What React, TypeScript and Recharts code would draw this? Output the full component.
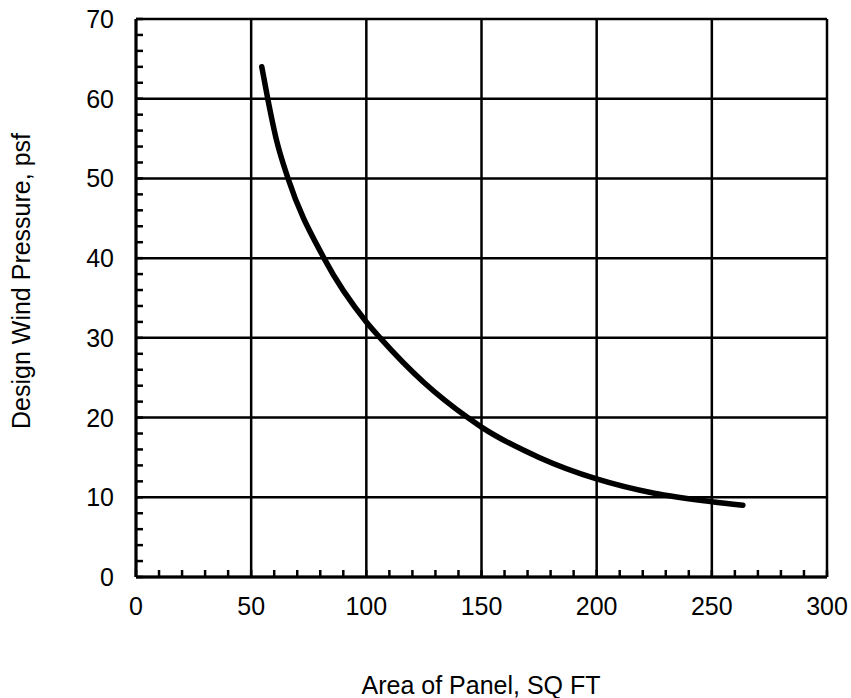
import { ComposedChart, Line, XAxis, YAxis, CartesianGrid, Label } from "recharts"

// curve
const areaSqFt = [54.6, 57.2, 61, 66, 81.6, 100, 106, 125, 144, 150, 175, 200, 225, 250, 263.5]
const pressurePsf = [64, 60, 54.8, 50, 40, 32, 30, 24.4, 20, 18.8, 15.0, 12.3, 10.5, 9.45, 9.0]

const xMajorTicks = [0, 50, 100, 150, 200, 250, 300]
const xMinorTicks = [0, 10, 20, 30, 40, 50, 60, 70, 80, 90, 100, 110, 120, 130, 140, 150, 160, 170, 180, 190, 200, 210, 220, 230, 240, 250, 260, 270, 280, 290, 300]
const yMajorTicks = [0, 10, 20, 30, 40, 50, 60, 70]
const yMinorTicks = [0, 2, 4, 6, 8, 10, 12, 14, 16, 18, 20, 22, 24, 26, 28, 30, 32, 34, 36, 38, 40, 42, 44, 46, 48, 50, 52, 54, 56, 58, 60, 62, 64, 66, 68, 70]

const chartData = areaSqFt.map((area, i) => ({ area, pressure: pressurePsf[i] }))

const FONT = "'Liberation Sans', Arial, sans-serif"

function XTick({ x, y, payload }: { x: number; y: number; payload: { value: number } }) {
  const v = payload.value
  return (
    <g>
      <line x1={x} y1={y} x2={x} y2={y - 7} stroke="#000" strokeWidth={2.5} />
      {xMajorTicks.includes(v) && (
        <text x={x} y={y + 38} textAnchor="middle" fontSize={25} fill="#000" fontFamily={FONT}>
          {v}
        </text>
      )}
    </g>
  )
}

function YTick({ x, y, payload }: { x: number; y: number; payload: { value: number } }) {
  const v = payload.value
  return (
    <g>
      <line x1={x} y1={y} x2={x + 7} y2={y} stroke="#000" strokeWidth={2.5} />
      {yMajorTicks.includes(v) && (
        <text x={x - 22} y={y + 9} textAnchor="end" fontSize={25} fill="#000" fontFamily={FONT}>
          {v}
        </text>
      )}
    </g>
  )
}

export default function App() {
  return (
    <div style={{ position: "absolute", left: 0, top: 0, background: "#fff" }}>
      <ComposedChart
        width={851}
        height={698}
        data={chartData}
        margin={{ top: 19, right: 24, bottom: 0, left: 0 }}
      >
        <CartesianGrid
          stroke="#000"
          strokeWidth={2.5}
          verticalValues={xMajorTicks}
          horizontalValues={yMajorTicks}
        />
        <XAxis
          dataKey="area"
          type="number"
          domain={[0, 300]}
          ticks={xMinorTicks}
          interval={0}
          height={121}
          tickSize={0}
          tickMargin={0}
          tickLine={false}
          axisLine={{ stroke: "#000", strokeWidth: 3 }}
          tick={(props: any) => <XTick {...props} />}
        >
          <Label
            content={() => (
              <text x={481} y={694} textAnchor="middle" fontSize={25} fill="#000" fontFamily={FONT}>
                Area of Panel, SQ FT
              </text>
            )}
          />
        </XAxis>
        <YAxis
          type="number"
          domain={[0, 70]}
          ticks={yMinorTicks}
          interval={0}
          width={136}
          tickSize={0}
          tickMargin={0}
          tickLine={false}
          axisLine={{ stroke: "#000", strokeWidth: 3 }}
          tick={(props: any) => <YTick {...props} />}
        >
          <Label
            content={() => (
              <text
                transform="translate(30,281) rotate(-90)"
                textAnchor="middle"
                fontSize={25}
                fill="#000"
                fontFamily={FONT}
              >
                Design Wind Pressure, psf
              </text>
            )}
          />
        </YAxis>
        <Line
          dataKey="pressure"
          type="monotone"
          stroke="#000"
          strokeWidth={5.5}
          strokeLinecap="round"
          dot={false}
          isAnimationActive={false}
        />
      </ComposedChart>
    </div>
  )
}
